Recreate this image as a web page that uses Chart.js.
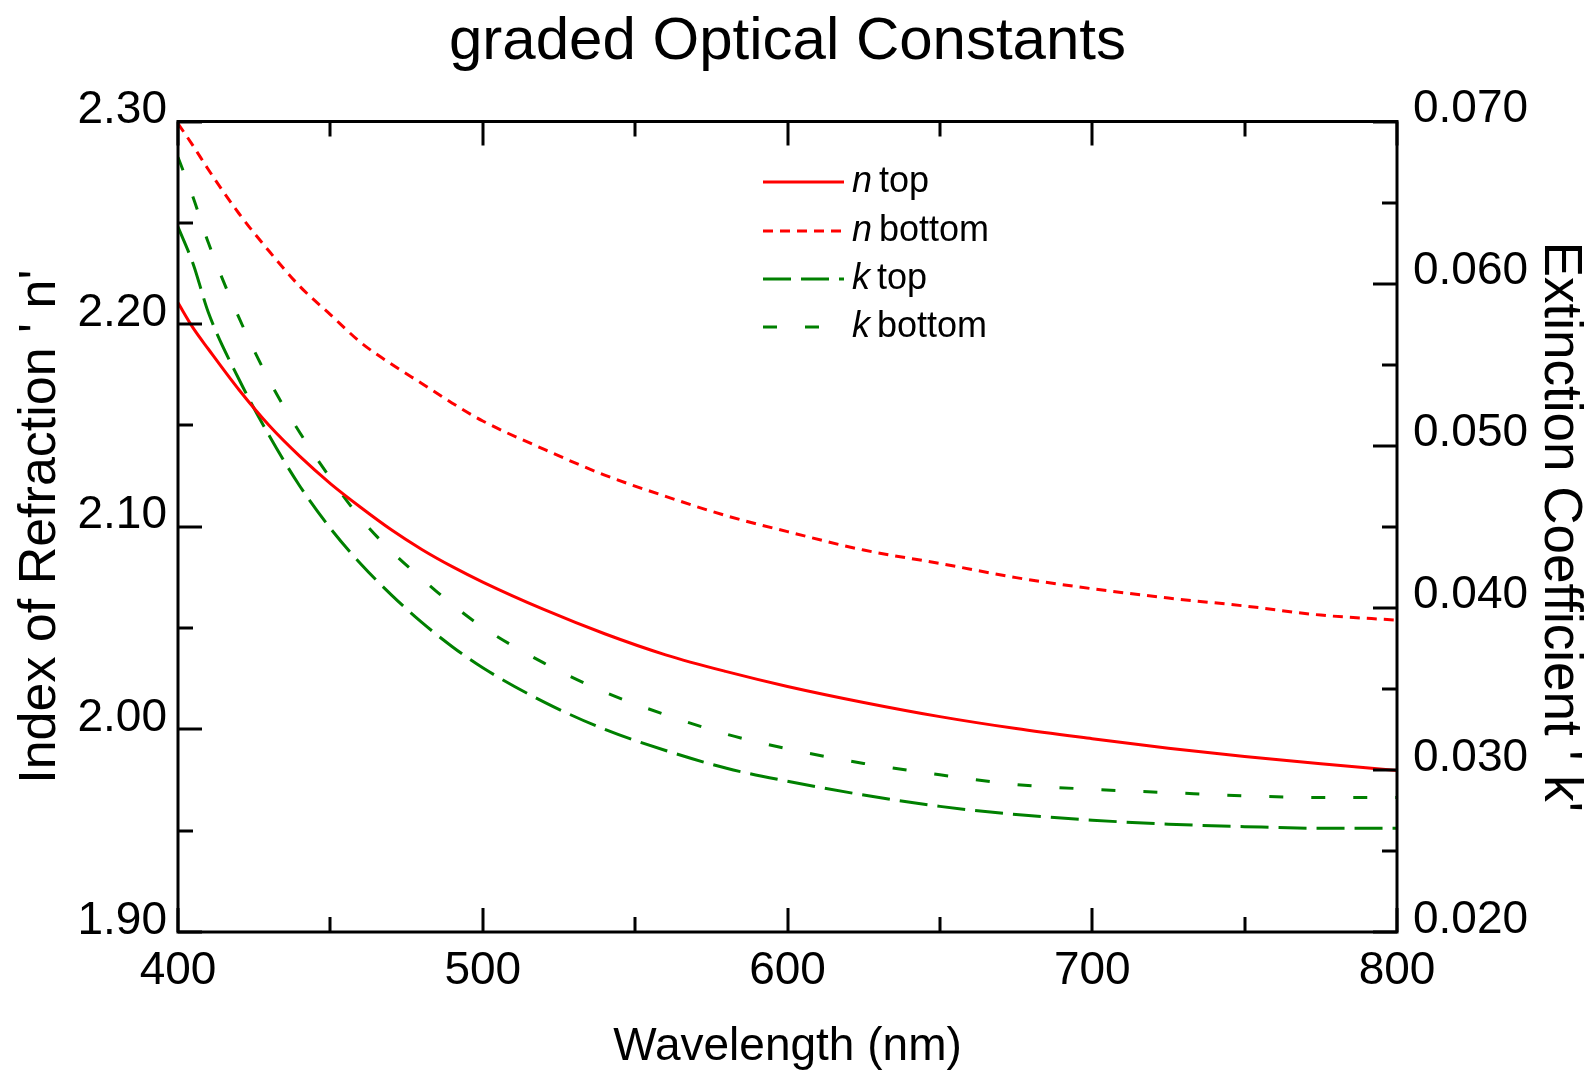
<!DOCTYPE html>
<html>
<head>
<meta charset="utf-8">
<script src="https://cdn.jsdelivr.net/npm/chart.js@4/dist/chart.umd.min.js"></script>
<style>
html,body{margin:0;padding:0;background:#fff;}
#wrap{width:1594px;height:1070px;position:relative;}
</style>
</head>
<body>
<div id="wrap"><canvas id="c"></canvas></div>
<script>
// ---- data ----
const wavelengths = [400,405,410,420,430,440,450,460,470,480,490,500,520,540,560,580,600,625,650,675,700,725,750,775,800];
const nTop    = [2.2105,2.1980,2.1876,2.1676,2.1498,2.1347,2.1213,2.1095,2.0985,2.0888,2.0803,2.0727,2.0592,2.0472,2.0368,2.0285,2.0212,2.0133,2.0063,2.0004,1.9954,1.9907,1.9866,1.9830,1.9797];
const nBottom = [2.2990,2.2879,2.2762,2.2546,2.2358,2.2186,2.2047,2.1909,2.1803,2.1707,2.1610,2.1522,2.1383,2.1255,2.1150,2.1054,2.0976,2.0885,2.0819,2.0749,2.0694,2.0648,2.0609,2.0564,2.0539];
const kTop    = [0.0635,0.0612,0.0582,0.0541,0.0506,0.0475,0.0449,0.0427,0.0408,0.0391,0.0376,0.0363,0.0342,0.0325,0.0312,0.0301,0.0293,0.02845,0.02775,0.02725,0.0269,0.02665,0.0265,0.0264,0.0264];
const kBottom = [0.0678,0.0653,0.0625,0.0579,0.0540,0.0508,0.0480,0.0455,0.0435,0.0418,0.0402,0.0388,0.0366,0.0348,0.0334,0.0322,0.0313,0.0304,0.0297,0.0291,0.0288,0.0286,0.0284,0.0283,0.0283];
const seriesNames = [["n"," top"],["n"," bottom"],["k"," top"],["k"," bottom"]];
const xTickLabels = [400,500,600,700,800];
const nTickLabels = ["1.90","2.00","2.10","2.20","2.30"];
const kTickLabels = ["0.020","0.030","0.040","0.050","0.060","0.070"];

const FONT = '"Liberation Sans", Arial, Helvetica, sans-serif';
const RED = '#ff0000', GREEN = '#008000';

function pts(ys){ return wavelengths.map((x,i)=>({x:x,y:ys[i]})); }

const frameAndTicks = {
  id:'frameAndTicks',
  afterDraw(chart){
    const ctx = chart.ctx, a = chart.chartArea;
    const sx = chart.scales.x, sy = chart.scales.y, sk = chart.scales.y1;
    ctx.save();
    ctx.strokeStyle = '#000';
    ctx.lineWidth = 3;
    ctx.lineCap = 'butt';
    ctx.strokeRect(a.left, a.top, a.right - a.left, a.bottom - a.top);
    const MAJ = 24, MIN = 15;
    sx.ticks.forEach(t=>{
      const px = Math.round(sx.getPixelForValue(t.value));
      const major = xTickLabels.includes(Math.round(t.value));
      const L = major ? MAJ : MIN;
      ctx.beginPath();
      ctx.moveTo(px, a.bottom); ctx.lineTo(px, a.bottom - L);
      ctx.moveTo(px, a.top); ctx.lineTo(px, a.top + L);
      ctx.stroke();
    });
    sy.ticks.forEach(t=>{
      const py = Math.round(sy.getPixelForValue(t.value));
      const major = nTickLabels.includes(t.value.toFixed(2));
      const L = major ? MAJ : MIN;
      ctx.beginPath(); ctx.moveTo(a.left, py); ctx.lineTo(a.left + L, py); ctx.stroke();
    });
    sk.ticks.forEach(t=>{
      const py = Math.round(sk.getPixelForValue(t.value));
      const major = kTickLabels.includes(t.value.toFixed(3));
      const L = major ? MAJ : MIN;
      ctx.beginPath(); ctx.moveTo(a.right, py); ctx.lineTo(a.right - L, py); ctx.stroke();
    });
    ctx.restore();
  }
};

const insideLegend = {
  id:'insideLegend',
  afterDraw(chart){
    const ctx = chart.ctx, a = chart.chartArea;
    const x0 = a.left + 585, x1 = a.left + 666, tx = a.left + 674;
    const rows = [182, 231, 279, 327];
    ctx.save();
    chart.data.datasets.forEach((ds,i)=>{
      const y = rows[i];
      ctx.strokeStyle = ds.borderColor;
      ctx.lineWidth = ds.borderWidth;
      ctx.setLineDash(ds.borderDash || []);
      ctx.beginPath(); ctx.moveTo(x0, y); ctx.lineTo(x1, y); ctx.stroke();
      ctx.setLineDash([]);
      ctx.fillStyle = '#000';
      ctx.textBaseline = 'middle';
      ctx.textAlign = 'left';
      ctx.font = 'italic 36px ' + FONT;
      const sym = seriesNames[i][0];
      ctx.fillText(sym, tx, y);
      const w = ctx.measureText(sym).width;
      ctx.font = '36px ' + FONT;
      ctx.fillText(seriesNames[i][1], tx + w - 3, y);
    });
    ctx.restore();
  }
};

const chart = new Chart(document.getElementById('c'), {
  type:'line',
  data:{
    datasets:[
      {label:'n top', data:pts(nTop), yAxisID:'y', borderColor:RED, borderWidth:3, borderDash:[], pointRadius:0, cubicInterpolationMode:'monotone', fill:false},
      {label:'n bottom', data:pts(nBottom), yAxisID:'y', borderColor:RED, borderWidth:3, borderDash:[10,7], pointRadius:0, cubicInterpolationMode:'monotone', fill:false},
      {label:'k top', data:pts(kTop), yAxisID:'y1', borderColor:GREEN, borderWidth:3, borderDash:[28,10], pointRadius:0, cubicInterpolationMode:'monotone', fill:false},
      {label:'k bottom', data:pts(kBottom), yAxisID:'y1', borderColor:GREEN, borderWidth:3, borderDash:[14,28], pointRadius:0, cubicInterpolationMode:'monotone', fill:false}
    ]
  },
  options:{
    responsive:true,
    maintainAspectRatio:false,
    animation:false,
    layout:{padding:0},
    plugins:{
      legend:{display:false},
      tooltip:{enabled:false},
      title:{display:true, fullSize:false, text:'graded Optical Constants', color:'#000',
        font:{family:FONT, size:60, weight:'normal', lineHeight:1.2},
        padding:{top:6, bottom:43.5}}
    },
    scales:{
      x:{type:'linear', position:'bottom', min:400, max:800,
        ticks:{stepSize:50, autoSkip:false, color:'#000', font:{family:FONT, size:46}, padding:12, maxRotation:0,
          callback:(v)=> xTickLabels.includes(Math.round(v)) ? String(Math.round(v)) : ''},
        grid:{display:false, drawTicks:false}, border:{display:false},
        title:{display:true, text:'Wavelength (nm)', color:'#000', font:{family:FONT, size:46, lineHeight:1}, padding:{top:8,bottom:0}},
        afterFit:(s)=>{ s.height = 138; }
      },
      y:{type:'linear', position:'left', min:1.9, max:2.3,
        ticks:{stepSize:0.05, autoSkip:false, color:'#000', font:{family:FONT, size:46}, padding:11, labelOffset:-11,
          callback:(v)=> nTickLabels.includes(v.toFixed(2)) ? v.toFixed(2) : ''},
        grid:{display:false, drawTicks:false}, border:{display:false},
        title:{display:true, text:"Index of Refraction ' n'", color:'#000', font:{family:FONT, size:52, lineHeight:1}, padding:{top:15,bottom:0}},
        afterFit:(s)=>{ s.width = 178; }
      },
      y1:{type:'linear', position:'right', min:0.02, max:0.07,
        ticks:{stepSize:0.005, autoSkip:false, color:'#000', font:{family:FONT, size:46}, padding:16, labelOffset:-12,
          callback:(v)=> kTickLabels.includes(v.toFixed(3)) ? v.toFixed(3) : ''},
        grid:{display:false, drawTicks:false}, border:{display:false},
        title:{display:true, text:"Extinction Coefficient ' k'", color:'#000', font:{family:FONT, size:53, lineHeight:1}, padding:{top:8,bottom:0}},
        afterFit:(s)=>{ s.width = 197; }
      }
    }
  },
  plugins:[frameAndTicks, insideLegend]
});
</script>
</body>
</html>
